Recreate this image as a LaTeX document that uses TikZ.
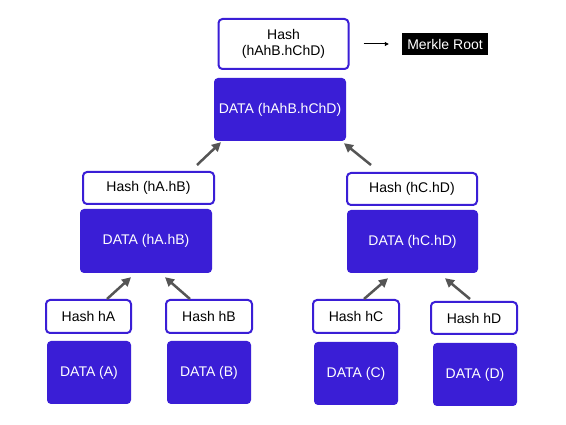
\documentclass[tikz,border=0pt]{standalone}
\usepackage{fontspec}
\setmainfont{Liberation Sans}
\usetikzlibrary{arrows.meta}
\definecolor{mblue}{RGB}{58,30,214}
\definecolor{agray}{RGB}{85,85,85}
\begin{document}
\begin{tikzpicture}[x=1pt,y=-1pt,
  hashbox/.style={draw=mblue,line width=2pt,fill=white,rounded corners=4pt,inner sep=0pt,align=center,font=\fontsize{14}{16}\selectfont},
  databox/.style={fill=mblue,rounded corners=4pt,inner sep=0pt,text=white,font=\fontsize{14}{16}\selectfont},
  arr/.style={draw=agray,line width=2.5pt,-{Triangle[length=9pt,width=9pt]}}]
\useasboundingbox[fill=white] (0,0) rectangle (566,425);
% root
\node[hashbox,minimum width=130pt,minimum height=50pt] (rh) at (283.5,44) {Hash\\(hAhB.hChD)};
\node[databox,minimum width=132pt,minimum height=63pt] (rd) at (280,109.5) {DATA (hAhB.hChD)};
\node[fill=black,text=white,inner sep=0pt,minimum width=86pt,minimum height=22pt,font=\fontsize{14}{16}\selectfont] (mr) at (445,44) {Merkle Root};
% middle
\node[hashbox,minimum width=131pt,minimum height=32pt] (mlh) at (148.5,188) {Hash (hA.hB)};
\node[databox,minimum width=132pt,minimum height=64pt] (mld) at (146,241) {DATA (hA.hB)};
\node[hashbox,minimum width=130pt,minimum height=32pt] (mrh) at (412,189) {Hash (hC.hD)};
\node[databox,minimum width=131pt,minimum height=63pt] (mrd) at (412.5,241.5) {DATA (hC.hD)};
% leaves
\node[hashbox,minimum width=85pt,minimum height=33pt] (ha) at (88.5,316.5) {Hash hA};
\node[databox,minimum width=84pt,minimum height=63pt] (da) at (89,372.5) {DATA (A)};
\node[hashbox,minimum width=86pt,minimum height=33pt] (hb) at (209,316.5) {Hash hB};
\node[databox,minimum width=84pt,minimum height=63pt] (db) at (209,372.5) {DATA (B)};
\node[hashbox,minimum width=86pt,minimum height=33pt] (hc) at (356,316.5) {Hash hC};
\node[databox,minimum width=84pt,minimum height=63pt] (dc) at (356,373.5) {DATA (C)};
\node[hashbox,minimum width=86pt,minimum height=32pt] (hd) at (474,318) {Hash hD};
\node[databox,minimum width=84pt,minimum height=63pt] (dd) at (475,374.5) {DATA (D)};
% arrows
\draw[line width=1pt,-{Triangle[length=4pt,width=4pt]}] ([xshift=14pt]rh.east) -- ([xshift=-13pt]mr.west);
\draw[arr] ([xshift=48.5pt,yshift=6pt]mlh.north) -- ([xshift=-59pt,yshift=-1pt]rd.south);
\draw[arr] ([xshift=-41pt,yshift=7pt]mrh.north) -- ([xshift=64pt,yshift=-2pt]rd.south);
\draw[arr] ([xshift=18.5pt]ha.north) -- ([xshift=-15pt,yshift=-4pt]mld.south);
\draw[arr] ([xshift=-19pt]hb.north) -- ([xshift=19pt,yshift=-4pt]mld.south);
\draw[arr] ([xshift=8pt]hc.north) -- ([xshift=-24.5pt,yshift=-5pt]mrd.south);
\draw[arr] ([xshift=-4pt,yshift=2pt]hd.north) -- ([xshift=32.5pt,yshift=-5pt]mrd.south);
\end{tikzpicture}
\end{document}
